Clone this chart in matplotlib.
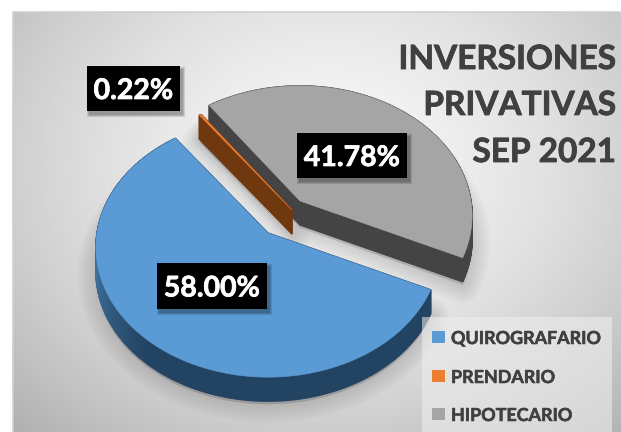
import numpy as np
import matplotlib
matplotlib.use("Agg")
import matplotlib.pyplot as plt
import matplotlib.patheffects as pe
from matplotlib.patches import Polygon, Rectangle

categories = ["QUIROGRAFARIO", "PRENDARIO", "HIPOTECARIO"]
values = [58.00, 0.22, 41.78]
value_labels = ["58.00%", "0.22%", "41.78%"]
title_lines = ["INVERSIONES", "PRIVATIVAS", "SEP 2021"]

top_colors = ["#5B9BD5", "#ED7D31", "#A5A5A5"]
wall_colors = ["#234362", "#70380F", "#444444"]
apexes = [(268, 233), (292, 210), (300, 201)]
label_boxes = [(157, 263, 110, 46), (87, 66, 93, 45), (297, 133, 110, 45)]
START = 115.0
RX, RY, K, DEPTH = 171.0, 128.0, 0.112, 24.0
TEXT = "#404040"
FONT = "Lato"

fig = plt.figure(figsize=(6.21, 4.32), dpi=100, facecolor="white")
ax = fig.add_axes([0, 0, 1, 1])
ax.set_xlim(0, 621)
ax.set_ylim(432, 0)
ax.axis("off")

# background panel with soft radial gradient
xx, yy = np.meshgrid(np.linspace(13, 621, 304), np.linspace(12, 432, 210))
dist = np.hypot((xx - 330) / 420, (yy - 165) / 340)
shade = np.clip(0.965 - 0.24 * dist ** 1.6, 0, 1)
ax.imshow(shade, extent=(13, 621, 432, 12), cmap="gray", vmin=0, vmax=1,
          aspect="auto", zorder=0, interpolation="bilinear")
ax.set_xlim(0, 621)
ax.set_ylim(432, 0)
ax.plot([13, 13, 621], [432, 12, 12], color="#d0d0d0", lw=1.2, zorder=1)


def project(theta, apex):
    u, v = np.sin(np.radians(theta)), np.cos(np.radians(theta))
    d = 1 + K * v
    return np.column_stack((apex[0] + RX * u / d, apex[1] - RY * v / d))


total = sum(values)
spans = [v / total * 360 for v in values]
starts = START + np.concatenate(([0], np.cumsum(spans)[:-1]))

slices = []
for i in range(3):
    n = max(int(spans[i] * 1.5), 3)
    thetas = np.linspace(starts[i], starts[i] + spans[i], n)
    arc = project(thetas, apexes[i])
    slices.append((thetas, arc, np.vstack(([apexes[i]], arc))))

# soft shadow below the slices
for i in (2, 1, 0):
    poly = slices[i][2]
    outline = poly + np.array([0, DEPTH + 3])
    for lw in range(26, 0, -4):
        ax.add_patch(Polygon(outline, closed=True, facecolor="black", edgecolor="black",
                             alpha=0.02, lw=lw, joinstyle="round", zorder=2))

# slices: walls then top faces, back slices first
for i in (2, 1, 0):
    thetas, arc, poly = slices[i]
    z = 3 + (2 - i) * 2
    m = len(poly)
    for j in range(m):
        a, b = poly[j], poly[(j + 1) % m]
        quad = [a, b, b + [0, DEPTH], a + [0, DEPTH]]
        col = wall_colors[i]
        if i == 0 and 0 < j < m - 1:
            # lighter stretch on the lower-left of the blue wall
            t = np.clip(1 - abs(thetas[j - 1] - 262) / 42, 0, 1)
            c0 = np.array(matplotlib.colors.to_rgb(wall_colors[0]))
            c1 = np.array(matplotlib.colors.to_rgb("#3F739F"))
            col = c0 + (c1 - c0) * t
        ax.add_patch(Polygon(quad, closed=True, facecolor=col, edgecolor=col, lw=1.0, zorder=z))
    ax.add_patch(Polygon(poly, closed=True, facecolor=top_colors[i], edgecolor=top_colors[i],
                         lw=0.4, zorder=z + 1))

heavy = [pe.withStroke(linewidth=0.6, foreground=TEXT)]
heavy_w = [pe.withStroke(linewidth=0.5, foreground="white")]

# data labels: black boxes with shadows
for (x, y, w, h), lab in zip(label_boxes, value_labels):
    for grow in (5, 3, 1):
        ax.add_patch(Rectangle((x + 2 - grow / 2, y + 3 - grow / 2), w + grow, h + grow,
                               facecolor="black", alpha=0.12, edgecolor="none", zorder=10))
    ax.add_patch(Rectangle((x, y), w, h, facecolor="black", edgecolor="none", zorder=11))
    ax.text(x + w / 2, y + h / 2, lab, color="white", fontsize=20.5, fontweight="bold",
            family=FONT, ha="center", va="center_baseline", zorder=12, path_effects=heavy_w)

# title
for yc, line in zip((57, 103, 150), title_lines):
    ax.text(616, yc, line, color=TEXT, fontsize=24, fontweight="bold", family=FONT,
            ha="right", va="center_baseline", zorder=12, path_effects=heavy)

# legend
ax.add_patch(Rectangle((422, 317), 190, 115, facecolor="#F0F0F0", alpha=0.55,
                       edgecolor="none", zorder=8))
for yc, name, col in zip((337, 376, 414), categories, top_colors):
    ax.add_patch(Rectangle((432, yc - 6), 13, 12, facecolor=col, edgecolor="none", zorder=12))
    ax.text(451, yc, name, color=TEXT, fontsize=12.9, fontweight="bold", family=FONT,
            ha="left", va="center_baseline", zorder=12,
            path_effects=[pe.withStroke(linewidth=0.4, foreground=TEXT)])

fig.savefig("out.png", dpi=100)
